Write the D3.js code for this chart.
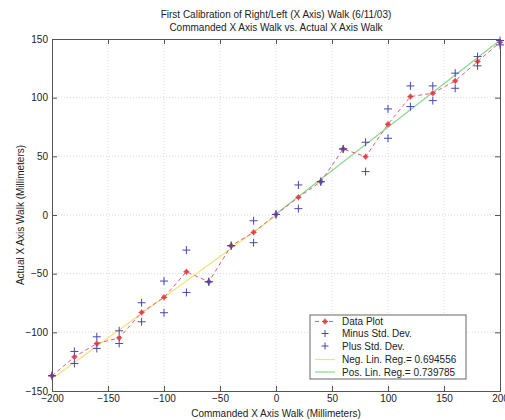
<!DOCTYPE html>
<html><head><meta charset="utf-8">
<script src="https://cdn.jsdelivr.net/npm/d3@7"></script>
<style>
body{margin:0;background:#fff;}
svg{display:block;font-family:"Liberation Sans",Arial,Helvetica,sans-serif;}
</style></head>
<body>
<svg id="c" width="505" height="420"></svg>
<script>
const commanded = [-200,-180,-160,-140,-120,-100,-80,-60,-40,-20,0,20,40,60,80,100,120,140,160,180,200];
const actualMean = [-137,-121,-109.5,-104.7,-83,-70.2,-48.4,-56.9,-26.2,-14.8,0.5,15.1,28.4,56.3,49.7,77.4,100.9,103.8,114.3,130.8,147.2];
const minusStd = [-137,-126.5,-113.7,-109.5,-91,-83.3,-66,-56.9,-26.2,-23.6,0.5,5.4,28.4,56.3,37,65.4,92.4,97.5,108,127.1,145];
const plusStd  = [-137,-116.3,-103.8,-98.7,-74.8,-56.3,-29.9,-56.9,-26.2,-4.9,0.5,25.6,28.4,56.3,62,90.4,110,110,120.9,135,148.7];
const negRegX = [-200, 0];
const negRegY = [-139.5, -0.6];
const posRegX = [0, 200];
const posRegY = [0.9, 148.9];
const xTicks = [-200,-150,-100,-50,0,50,100,150,200];
const yTicks = [-150,-100,-50,0,50,100,150];
const legendLabels = ["Data Plot","Minus Std. Dev.","Plus Std. Dev.","Neg. Lin. Reg.= 0.694556","Pos. Lin. Reg.= 0.739785"];

const svg = d3.select("#c");
const L=52,R=500,T=39,B=391;
const FS="10px";
const x = d3.scaleLinear().domain([-200,200]).range([L,R]);
const y = d3.scaleLinear().domain([-150,150]).range([B,T]);

// grid
const g = svg.append("g");
g.selectAll(".gx").data(xTicks.slice(1,-1)).enter().append("line")
 .attr("x1",d=>x(d)).attr("x2",d=>x(d)).attr("y1",T).attr("y2",B)
 .attr("stroke","#cfcfcf").attr("stroke-width",0.8).attr("stroke-dasharray","1,2");
g.selectAll(".gy").data(yTicks.slice(1,-1)).enter().append("line")
 .attr("y1",d=>y(d)).attr("y2",d=>y(d)).attr("x1",L).attr("x2",R)
 .attr("stroke","#cfcfcf").attr("stroke-width",0.8).attr("stroke-dasharray","1,2");

// axes
const axisCol="#555";
const ax = svg.append("g").attr("transform",`translate(0,${B})`)
 .call(d3.axisBottom(x).tickValues(xTicks).tickSize(-5).tickPadding(4));
const ax2 = svg.append("g").attr("transform",`translate(0,${T})`)
 .call(d3.axisTop(x).tickValues(xTicks).tickSize(-5).tickFormat(""));
const ay = svg.append("g").attr("transform",`translate(${L},0)`)
 .call(d3.axisLeft(y).tickValues(yTicks).tickSize(-5).tickPadding(4));
const ay2 = svg.append("g").attr("transform",`translate(${R},0)`)
 .call(d3.axisRight(y).tickValues(yTicks).tickSize(-5).tickFormat(""));
[ax,ax2,ay,ay2].forEach(a=>{
  a.selectAll("path").attr("stroke",axisCol);
  a.selectAll("line").attr("stroke",axisCol);
  a.selectAll("text").attr("fill","#222").style("font-size",FS).style("font-family","'Liberation Sans',Arial,sans-serif");
});

// regression lines
const line = d3.line().x(d=>x(d[0])).y(d=>y(d[1]));
svg.append("path").datum(negRegX.map((v,i)=>[v,negRegY[i]])).attr("d",line)
 .attr("fill","none").attr("stroke","#f2e27a").attr("stroke-width",1.2);
svg.append("path").datum(posRegX.map((v,i)=>[v,posRegY[i]])).attr("d",line)
 .attr("fill","none").attr("stroke","#8cd88c").attr("stroke-width",1.2);

// data line
const pts = commanded.map((v,i)=>[v,actualMean[i]]);
svg.append("path").datum(pts).attr("d",line).attr("fill","none")
 .attr("stroke","#d86080").attr("stroke-width",1).attr("stroke-dasharray","4,3");

function plus(sel,cx,cy,s,col){
  sel.append("line").attr("x1",cx-s).attr("x2",cx+s).attr("y1",cy).attr("y2",cy).attr("stroke",col).attr("stroke-width",1);
  sel.append("line").attr("x1",cx).attr("x2",cx).attr("y1",cy-s).attr("y2",cy+s).attr("stroke",col).attr("stroke-width",1);
}
function star(sel,cx,cy,s,col){
  sel.append("circle").attr("cx",cx).attr("cy",cy).attr("r",s*0.75).attr("fill",col).attr("opacity",0.85);
  plus(sel,cx,cy,s,col);
}
const mk = svg.append("g");
commanded.forEach((v,i)=>{
  star(mk,x(v),y(actualMean[i]),3,"#e04040");
});
commanded.forEach((v,i)=>{
  plus(mk,x(v),y(minusStd[i]),4,"#4848a8");
  plus(mk,x(v),y(plusStd[i]),4,"#4848a8");
});

// legend
const lg = svg.append("g");
lg.append("rect").attr("x",310).attr("y",315).attr("width",156).attr("height",64)
 .attr("fill","#fff").attr("stroke","#666").attr("stroke-width",1);
const ly = [321.5,333.5,346,359.5,372];
legendLabels.forEach((t,i)=>{
  const yy=ly[i];
  if(i===0){
    lg.append("line").attr("x1",315).attr("x2",335).attr("y1",yy).attr("y2",yy).attr("stroke","#d86080").attr("stroke-dasharray","4,3");
    star(lg,325,yy,3,"#e04040");
  } else if(i<3){
    plus(lg,325,yy,3.5,"#4848a8");
  } else {
    lg.append("line").attr("x1",315).attr("x2",335).attr("y1",yy).attr("y2",yy)
      .attr("stroke",i===3?"#f2e27a":"#8cd88c").attr("stroke-width",1.2);
  }
  lg.append("text").attr("x",342).attr("y",yy+3.5).text(t)
    .attr("fill","#222").style("font-size",FS);
});

// titles
svg.append("text").attr("x",276).attr("y",18).attr("text-anchor","middle")
 .style("font-size",FS).attr("fill","#222").text("First Calibration of Right/Left (X Axis) Walk (6/11/03)");
svg.append("text").attr("x",276).attr("y",31).attr("text-anchor","middle")
 .style("font-size",FS).attr("fill","#222").text("Commanded X Axis Walk vs. Actual X Axis Walk");
svg.append("text").attr("x",276).attr("y",417).attr("text-anchor","middle")
 .style("font-size",FS).attr("fill","#222").text("Commanded X Axis Walk (Millimeters)");
svg.append("text").attr("transform","translate(24,215) rotate(-90)").attr("text-anchor","middle")
 .style("font-size",FS).attr("fill","#222").text("Actual X Axis Walk (Millimeters)");
</script>
</body></html>
